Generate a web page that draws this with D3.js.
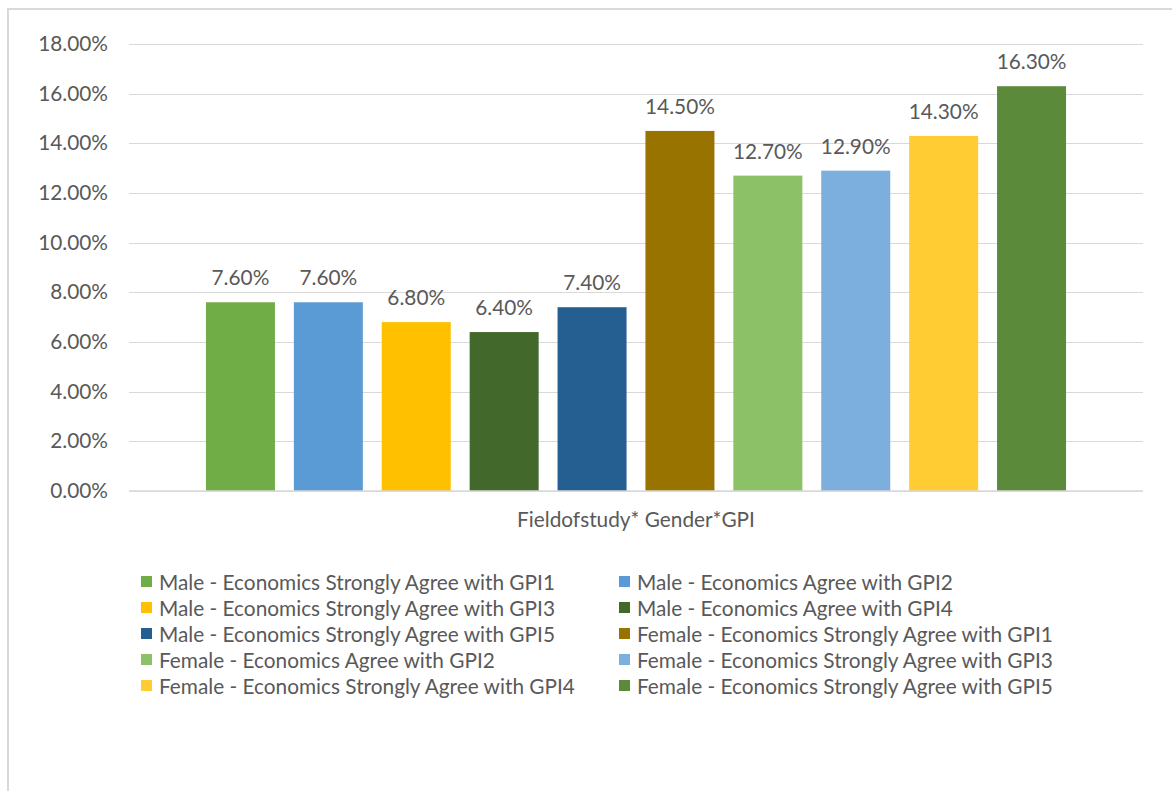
<!DOCTYPE html>
<html>
<head>
<meta charset="utf-8">
<script src="https://cdn.jsdelivr.net/npm/d3@7"></script>
<style>
  html, body { margin: 0; padding: 0; background: #fff; }
  svg { display: block; }
  text { font-family: Lato, "Open Sans", sans-serif; fill: #595959; }
</style>
</head>
<body>
<svg id="chart" width="1172" height="791"></svg>
<script>
// Series names, values and colours
const seriesNames = [
  "Male - Economics Strongly Agree with GPI1",
  "Male - Economics Agree with GPI2",
  "Male - Economics Strongly Agree with GPI3",
  "Male - Economics Agree with GPI4",
  "Male - Economics Strongly Agree with GPI5",
  "Female - Economics Strongly Agree with GPI1",
  "Female - Economics Agree with GPI2",
  "Female - Economics Strongly Agree with GPI3",
  "Female - Economics Strongly Agree with GPI4",
  "Female - Economics Strongly Agree with GPI5"
];
const seriesValues = [0.076, 0.076, 0.068, 0.064, 0.074, 0.145, 0.127, 0.129, 0.143, 0.163];
const seriesColors = ["#70AD47", "#5B9BD5", "#FFC000", "#43682B", "#255E91",
                      "#997300", "#8CC168", "#7CAFDD", "#FFCD33", "#5A8A3A"];
const yTicks = [0, 0.02, 0.04, 0.06, 0.08, 0.10, 0.12, 0.14, 0.16, 0.18];
const categoryLabel = "Fieldofstudy* Gender*GPI";

const svg = d3.select("#chart");
const W = 1172, H = 791;
const FS = 20.8;

// Outer chart-area frame
svg.append("rect")
  .attr("x", 8).attr("y", 9).attr("width", W + 10).attr("height", H + 10)
  .attr("fill", "#fff").attr("stroke", "#d9d9d9").attr("stroke-width", 2);

const plot = { left: 129, right: 1143, top: 44, bottom: 491 };

const y = d3.scaleLinear().domain([0, 0.18]).range([plot.bottom, plot.top]);

// one category, series laid side by side inside it
const x = d3.scaleBand()
  .domain(seriesNames)
  .range([196.5, 1075.5])
  .paddingInner(0.215)
  .paddingOuter(0.1075);

const fmt = d3.format(".2%");

// Gridlines and tick labels
const yAxis = d3.axisLeft(y).tickValues(yTicks).tickFormat(fmt)
  .tickSize(-(plot.right - plot.left)).tickPadding(21);
const gy = svg.append("g").attr("transform", `translate(${plot.left},0)`).call(yAxis);
gy.select(".domain").remove();
gy.selectAll(".tick line").attr("stroke", "#d9d9d9").attr("stroke-width", 1.3)
  .attr("shape-rendering", "crispEdges");
gy.selectAll(".tick text").attr("font-size", FS).attr("fill", "#595959")
  .style("font-family", "Lato, sans-serif");

// Bars
svg.append("g").selectAll("rect")
  .data(seriesValues)
  .join("rect")
  .attr("x", (d, i) => x(seriesNames[i]))
  .attr("y", d => y(d))
  .attr("width", x.bandwidth())
  .attr("height", d => y(0) - y(d))
  .attr("fill", (d, i) => seriesColors[i]);

// Baseline
svg.append("line")
  .attr("x1", plot.left).attr("x2", plot.right)
  .attr("y1", y(0)).attr("y2", y(0))
  .attr("stroke", "#d9d9d9").attr("stroke-width", 1.5);

// Value labels
svg.append("g").selectAll("text")
  .data(seriesValues)
  .join("text")
  .attr("x", (d, i) => x(seriesNames[i]) + x.bandwidth() / 2)
  .attr("y", d => y(d) - 17)
  .attr("text-anchor", "middle")
  .attr("font-size", FS)
  .text(d => fmt(d));

// Category axis title
svg.append("text")
  .attr("x", (plot.left + plot.right) / 2)
  .attr("y", 527)
  .attr("text-anchor", "middle")
  .attr("font-size", FS)
  .text(categoryLabel);

// Legend, two columns
const legendCols = [141, 619];
const legendRowY = [582, 608, 634, 660, 686];
const lg = svg.append("g").selectAll("g")
  .data(seriesNames)
  .join("g")
  .attr("transform", (d, i) => `translate(${legendCols[i % 2]},${legendRowY[Math.floor(i / 2)]})`);
lg.append("rect")
  .attr("x", 0).attr("y", -6).attr("width", 11).attr("height", 11)
  .attr("fill", (d, i) => seriesColors[i]);
lg.append("text")
  .attr("x", 18).attr("y", 7.5)
  .attr("font-size", FS)
  .text(d => d);
</script>
</body>
</html>
